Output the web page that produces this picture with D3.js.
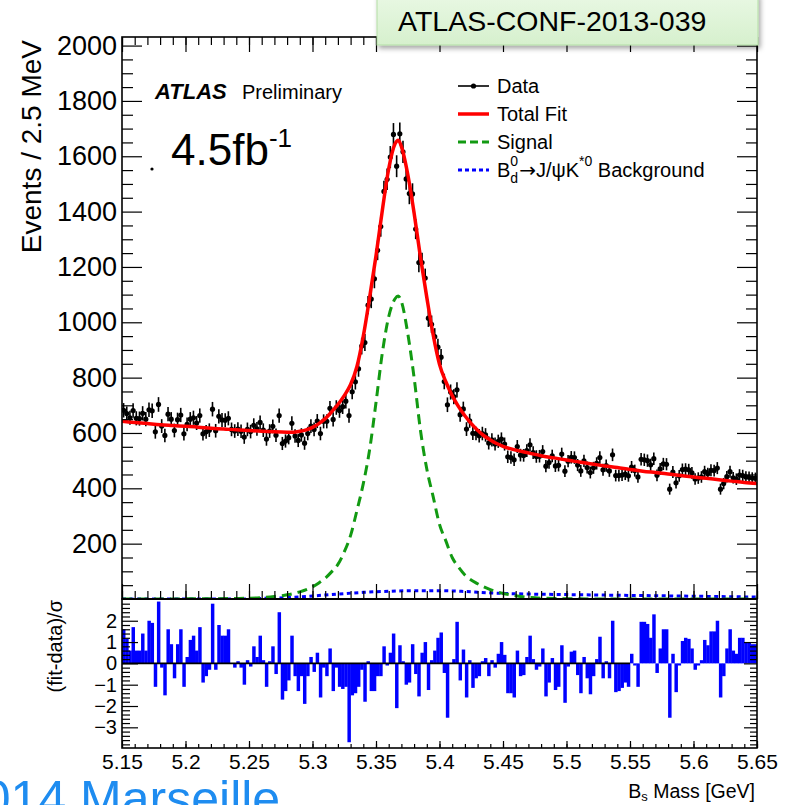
<!DOCTYPE html>
<html><head><meta charset="utf-8">
<script src="https://cdn.jsdelivr.net/npm/d3@7"></script>
<style>
body{margin:0;background:#fff}
svg{display:block}
text{font-family:"Liberation Sans",Arial,Helvetica,sans-serif;fill:#000}
</style>
</head><body>
<svg id="c" width="786" height="805"></svg>
<script>
// ---------------- data ----------------
const binLow = 5.15, binWidth = 0.0025;

const dataCounts = [
682,670,655,681,653,652,671,650,684,680,
604,703,625,591,668,650,609,648,665,597,
631,650,655,636,663,597,604,610,686,608,
660,647,646,653,613,607,614,606,585,613,
605,628,615,638,610,578,607,624,592,663,
562,571,583,635,589,573,593,563,598,625,
613,643,598,642,642,689,649,692,681,695,
715,663,749,785,832,914,927,1062,1084,1157,
1260,1346,1473,1517,1597,1679,1564,1681,1616,1518,
1465,1464,1337,1216,1216,1160,1015,993,948,910,
874,786,702,748,731,756,666,687,614,644,
599,598,590,598,593,564,575,560,570,578,
560,514,511,503,551,520,519,536,557,529,
515,516,533,480,493,517,481,483,524,462,
498,512,511,484,463,499,475,457,474,490,
511,467,482,463,521,446,446,448,451,445,
477,464,441,505,503,500,485,507,447,470,
488,487,397,459,420,445,468,469,467,456,
434,437,441,460,453,465,464,473,397,417,
442,460,438,433,448,446,441,440,437,436];

const pulls = [
1.6,1.15,0.6,1.7,0.6,0.6,1.4,0.6,2.0,1.9,
-1.1,2.9,-0.2,-1.5,1.6,0.9,-0.7,0.9,1.6,-1.1,
0.3,1.1,1.3,0.6,1.7,-0.9,-0.6,-0.3,2.8,-0.3,
1.8,1.3,1.3,1.6,0.0,-0.2,0.1,-0.2,-1.0,0.15,
-0.15,0.8,0.3,1.3,0.15,-1.1,0.1,0.8,-0.5,2.4,
-1.7,-1.3,-0.8,1.3,-0.6,-1.3,-0.6,-1.9,-0.6,0.3,
-0.4,0.5,-1.6,-0.2,-0.6,0.7,-1.3,-0.2,-1.1,-1.2,
-1.1,-3.7,-1.5,-1.4,-1.1,-0.3,-1.8,0.1,-1.3,-1.3,
-0.6,-0.6,0.8,-0.1,0.5,1.4,-2.1,0.85,0.1,-1.0,
-0.9,0.9,-0.5,-1.55,0.5,1.0,-1.25,0.15,0.6,1.2,
1.45,-0.45,-2.55,0.0,0.2,1.95,-0.8,0.65,-1.6,0.15,
-1.15,-0.7,-0.6,0.1,0.25,-0.6,0.15,-0.2,0.45,1.0,
0.4,-1.4,-1.4,-1.6,0.6,-0.6,-0.55,0.3,1.3,0.2,
-0.3,-0.15,0.7,-1.55,-0.9,0.25,-1.25,-1.1,0.85,-1.85,
-0.15,0.55,0.6,-0.55,-1.4,0.3,-0.7,-1.45,-0.6,0.2,
1.25,-0.7,0.1,-0.7,2.0,-1.35,-1.3,-1.15,-0.9,-1.1,
0.45,-0.1,-1.1,1.95,1.95,1.85,1.2,2.3,-0.45,0.7,
1.6,1.6,-2.55,0.45,-1.35,-0.1,1.05,1.2,1.15,0.7,
-0.3,-0.1,0.15,1.1,0.85,1.5,1.5,2.0,-1.6,-0.6,
0.7,1.6,0.6,0.45,1.2,1.2,1.0,1.0,0.9,0.9];

const fitMass = [5.15,5.16,5.17,5.18,5.19,5.20,5.21,5.22,5.23,5.24,5.25,5.26,5.27,5.28,5.285,5.29,5.295,5.30,5.305,5.31,5.315,5.32,5.325,5.33,5.335,5.34,5.345,5.35,5.355,5.36,5.365,5.3675,5.37,5.375,5.38,5.385,5.39,5.395,5.40,5.405,5.41,5.415,5.42,5.425,5.43,5.435,5.44,5.445,5.45,5.46,5.47,5.48,5.49,5.50,5.51,5.52,5.53,5.54,5.55,5.56,5.57,5.58,5.59,5.60,5.61,5.62,5.63,5.64,5.65];
const fitValues = [642,638,634,630,627,624,621,617,614,612,609,606,604,603,603,606,611,620,634,652,676,703,735,775,840,950,1090,1240,1405,1555,1645,1658,1635,1535,1395,1235,1090,955,848,785,735,695,662,634,610,590,575,562,552,538,528,518,510,502,495,488,481,475,468,462,457,452,446,441,436,431,426,421,417];

const sigMass = [5.15,5.20,5.24,5.26,5.27,5.28,5.29,5.30,5.305,5.31,5.315,5.32,5.325,5.33,5.335,5.34,5.345,5.35,5.355,5.36,5.365,5.3675,5.37,5.375,5.38,5.385,5.39,5.395,5.40,5.405,5.41,5.415,5.42,5.43,5.44,5.45,5.46,5.47,5.48,5.50,5.55,5.65];
const sigValues = [0,0.5,2,5,9,15,26,44,58,75,98,125,170,230,320,417,540,710,890,1020,1085,1095,1075,960,800,610,470,370,270,210,150,115,87,55,34,20,12,6,3,1,0,0];

const bkgMass = [5.15,5.24,5.26,5.28,5.30,5.32,5.34,5.36,5.38,5.40,5.42,5.44,5.46,5.50,5.55,5.60,5.65];
const bkgValues = [0,0,2,5,11,18,24,28,30,30,27,22,19,16,13,10,7];

const xTickValues = [5.15,5.2,5.25,5.3,5.35,5.4,5.45,5.5,5.55,5.6,5.65];
const xTickLabels = ["5.15","5.2","5.25","5.3","5.35","5.4","5.45","5.5","5.55","5.6","5.65"];
const yTickValues = [200,400,600,800,1000,1200,1400,1600,1800,2000];
const pullTickValues = [-3,-2,-1,0,1,2];
const legendLabels = ["Data","Total Fit","Signal"];

// ---------------- layout ----------------
const svg = d3.select("#c");
const L=122, R=757, T=37, MB=599, RB=748;
const x = d3.scaleLinear().domain([5.15,5.65]).range([L,R]);
const y = d3.scaleLinear().domain([0,2031]).range([MB,T]);
const yr = d3.scaleLinear().domain([-3.97,3.02]).range([RB,MB]);

const defs = svg.append("defs");
defs.append("clipPath").attr("id","clipM").append("rect").attr("x",L).attr("y",T).attr("width",R-L).attr("height",MB-T);
defs.append("clipPath").attr("id","clipR").append("rect").attr("x",L).attr("y",MB).attr("width",R-L).attr("height",RB-MB);
const grad = defs.append("linearGradient").attr("id","boxg").attr("x1",0).attr("y1",0).attr("x2",0).attr("y2",1);
grad.append("stop").attr("offset","0%").attr("stop-color","#e9f8e4");
grad.append("stop").attr("offset","100%").attr("stop-color","#d6f0cd");
const filt = defs.append("filter").attr("id","shadow").attr("x","-10%").attr("y","-30%").attr("width","130%").attr("height","180%");
filt.append("feDropShadow").attr("dx",2).attr("dy",3).attr("stdDeviation",2.5).attr("flood-color","#000").attr("flood-opacity",0.35);

// ---------------- residual panel ----------------
const gr = svg.append("g").attr("clip-path","url(#clipR)");
gr.selectAll("rect").data(pulls).join("rect")
  .attr("x",(d,i)=>x(binLow+i*binWidth))
  .attr("width",(d,i)=>x(binLow+(i+1)*binWidth)-x(binLow+i*binWidth)+0.3)
  .attr("y",d=>yr(Math.max(0,d)))
  .attr("height",d=>Math.abs(yr(d)-yr(0)))
  .attr("fill","#0000ff");
svg.append("line").attr("x1",x(5.15)).attr("x2",x(5.55)).attr("y1",yr(0)).attr("y2",yr(0))
  .attr("stroke","#000").attr("stroke-width",1.6);

// ---------------- main panel ----------------
const gm = svg.append("g").attr("clip-path","url(#clipM)");
const centers = dataCounts.map((d,i)=>binLow+(i+0.5)*binWidth);
gm.append("g").selectAll("line").data(dataCounts).join("line")
  .attr("x1",(d,i)=>x(centers[i])).attr("x2",(d,i)=>x(centers[i]))
  .attr("y1",d=>y(d-Math.sqrt(d))).attr("y2",d=>y(d+Math.sqrt(d)))
  .attr("stroke","#000").attr("stroke-width",1.6);
gm.append("g").selectAll("circle").data(dataCounts).join("circle")
  .attr("cx",(d,i)=>x(centers[i])).attr("cy",d=>y(d)).attr("r",2.6).attr("fill","#000");

const mkLine = (ms,vs)=>d3.line().x((d,i)=>x(ms[i])).y(d=>y(d)).curve(d3.curveMonotoneX)(vs);
gm.append("path").attr("d",mkLine(bkgMass,bkgValues)).attr("fill","none").attr("stroke","#0000ff").attr("stroke-width",3).attr("stroke-dasharray","4,3.5");
gm.append("path").attr("d",mkLine(sigMass,sigValues)).attr("fill","none").attr("stroke","#129a12").attr("stroke-width",3).attr("stroke-dasharray","10,6");
gm.append("path").attr("d",mkLine(fitMass,fitValues)).attr("fill","none").attr("stroke","#ff0000").attr("stroke-width",3.5);

// ---------------- axes / ticks ----------------
function styleAxis(g){ g.select(".domain").remove(); g.selectAll(".tick line").attr("stroke","#000").attr("stroke-width",1.2); return g; }
const xMinor = d3.range(0,51).map(k=>+(5.15+k*0.01).toFixed(2));
const yMinor = d3.range(0,41).map(k=>k*50).filter(v=>v%200!==0);
const rMinor = d3.range(-19,16).map(k=>+(k*0.2).toFixed(1)).filter(v=>Math.abs(v-Math.round(v))>1e-6);

// main left
styleAxis(svg.append("g").attr("transform",`translate(${L},0)`).call(d3.axisLeft(y).tickValues(yMinor).tickSize(-11).tickFormat("")));
const yl = styleAxis(svg.append("g").attr("transform",`translate(${L},0)`).call(d3.axisLeft(y).tickValues(yTickValues).tickSize(-20).tickPadding(5).tickFormat(d3.format("d"))));
yl.selectAll("text").style("font-size","27px");
// main right
styleAxis(svg.append("g").attr("transform",`translate(${R},0)`).call(d3.axisRight(y).tickValues(yMinor).tickSize(-11).tickFormat("")));
styleAxis(svg.append("g").attr("transform",`translate(${R},0)`).call(d3.axisRight(y).tickValues(yTickValues).tickSize(-20).tickFormat("")));
// main bottom (ticks up) and top (ticks down)
styleAxis(svg.append("g").attr("transform",`translate(0,${MB})`).call(d3.axisBottom(x).tickValues(xMinor).tickSize(-8).tickFormat("")));
styleAxis(svg.append("g").attr("transform",`translate(0,${MB})`).call(d3.axisBottom(x).tickValues(xTickValues).tickSize(-15).tickFormat("")));
styleAxis(svg.append("g").attr("transform",`translate(0,${T})`).call(d3.axisTop(x).tickValues(xMinor).tickSize(-8).tickFormat("")));
styleAxis(svg.append("g").attr("transform",`translate(0,${T})`).call(d3.axisTop(x).tickValues(xTickValues).tickSize(-15).tickFormat("")));
// residual left / right
styleAxis(svg.append("g").attr("transform",`translate(${L},0)`).call(d3.axisLeft(yr).tickValues(rMinor).tickSize(-8).tickFormat("")));
const rl = styleAxis(svg.append("g").attr("transform",`translate(${L},0)`).call(d3.axisLeft(yr).tickValues(pullTickValues).tickSize(-16).tickPadding(5).tickFormat(d3.format("d"))));
rl.selectAll("text").style("font-size","20px");
styleAxis(svg.append("g").attr("transform",`translate(${R},0)`).call(d3.axisRight(yr).tickValues(rMinor).tickSize(-7).tickFormat("")));
styleAxis(svg.append("g").attr("transform",`translate(${R},0)`).call(d3.axisRight(yr).tickValues(pullTickValues).tickSize(-13).tickFormat("")));
// residual bottom
styleAxis(svg.append("g").attr("transform",`translate(0,${RB})`).call(d3.axisBottom(x).tickValues(xMinor).tickSize(-4).tickFormat("")));
const xl = styleAxis(svg.append("g").attr("transform",`translate(0,${RB})`).call(d3.axisBottom(x).tickValues(xTickValues).tickSize(-7).tickPadding(6).tickFormat((d,i)=>xTickLabels[i])));
xl.selectAll("text").style("font-size","21px");
svg.selectAll(".tick text").attr("fill","#000").style("fill","#000").attr("font-family","Liberation Sans, Arial, sans-serif");

// frames
svg.append("rect").attr("x",L).attr("y",T).attr("width",R-L).attr("height",MB-T).attr("fill","none").attr("stroke","#000").attr("stroke-width",1.6);
svg.append("rect").attr("x",L).attr("y",MB).attr("width",R-L).attr("height",RB-MB).attr("fill","none").attr("stroke","#000").attr("stroke-width",1.6);
svg.append("line").attr("x1",L).attr("x2",R).attr("y1",MB).attr("y2",MB).attr("stroke","#000").attr("stroke-width",2.2);

// axis titles
svg.append("text").attr("transform","translate(41,40) rotate(-90)").attr("text-anchor","end").style("font-size","28px").text("Events / 2.5 MeV");
svg.append("text").attr("transform","translate(62,600) rotate(-90)").attr("text-anchor","end").style("font-size","20px").text("(fit-data)/σ");
const xt = svg.append("text").attr("x",755).attr("y",798).attr("text-anchor","end").style("font-size","19.5px");
xt.append("tspan").text("B");
xt.append("tspan").attr("dy",3).style("font-size","13px").text("s");
xt.append("tspan").attr("dy",-3).text(" Mass [GeV]");

// ATLAS label
const at = svg.append("text").attr("x",155).attr("y",99);
at.append("tspan").style("font-size","22px").style("font-weight","bold").style("font-style","italic").text("ATLAS");
svg.append("text").attr("x",242).attr("y",99).style("font-size","20px").text("Preliminary");
const lum = svg.append("text").attr("x",171).attr("y",165).style("font-size","44px");
lum.append("tspan").text("4.5fb");
lum.append("tspan").attr("dy",-18).style("font-size","26px").text("-1");
svg.append("circle").attr("cx",152).attr("cy",169).attr("r",1.6).attr("fill","#000");

// legend
const lx1=458, lx2=489, tx=497;
const rows=[86,114,142,170];
svg.append("line").attr("x1",lx1).attr("x2",lx2).attr("y1",rows[0]).attr("y2",rows[0]).attr("stroke","#000").attr("stroke-width",1.6);
svg.append("circle").attr("cx",(lx1+lx2)/2).attr("cy",rows[0]).attr("r",2.6).attr("fill","#000");
svg.append("line").attr("x1",lx1).attr("x2",lx2).attr("y1",rows[1]).attr("y2",rows[1]).attr("stroke","#ff0000").attr("stroke-width",3.5);
svg.append("line").attr("x1",lx1).attr("x2",lx2).attr("y1",rows[2]).attr("y2",rows[2]).attr("stroke","#129a12").attr("stroke-width",3).attr("stroke-dasharray","8,4");
svg.append("line").attr("x1",lx1).attr("x2",lx2).attr("y1",rows[3]).attr("y2",rows[3]).attr("stroke","#0000ff").attr("stroke-width",3).attr("stroke-dasharray","4,3");
legendLabels.forEach((t,i)=>svg.append("text").attr("x",tx).attr("y",rows[i]+7).style("font-size","20px").text(t));
const bl = svg.append("text").attr("x",tx).attr("y",rows[3]+7).style("font-size","20px");
bl.append("tspan").text("B");
bl.append("tspan").attr("dy",-11).style("font-size","14px").text("0");
bl.append("tspan").attr("dx",-7.8).attr("dy",17).style("font-size","14px").text("d");
bl.append("tspan").attr("dx",1).attr("dy",-6).style("font-family","DejaVu Sans, sans-serif").text("→");
bl.append("tspan").text("J/ψK");
bl.append("tspan").attr("dy",-11).style("font-size","14px").text("*0");
bl.append("tspan").attr("dy",11).text(" Background");

// conference box
svg.append("rect").attr("x",377).attr("y",-6).attr("width",381).attr("height",51)
  .attr("fill","url(#boxg)").attr("stroke","#b3dea5").attr("stroke-width",1).attr("filter","url(#shadow)");
svg.append("text").attr("x",398).attr("y",31).style("font-size","28.5px").text("ATLAS-CONF-2013-039");

// footer text (partly outside the page, as in the reference)
svg.append("text").attr("x",-45).attr("y",816).style("font-size","50px").style("fill","#1e8cf0").text("2014 Marseille");
</script>
</body></html>
